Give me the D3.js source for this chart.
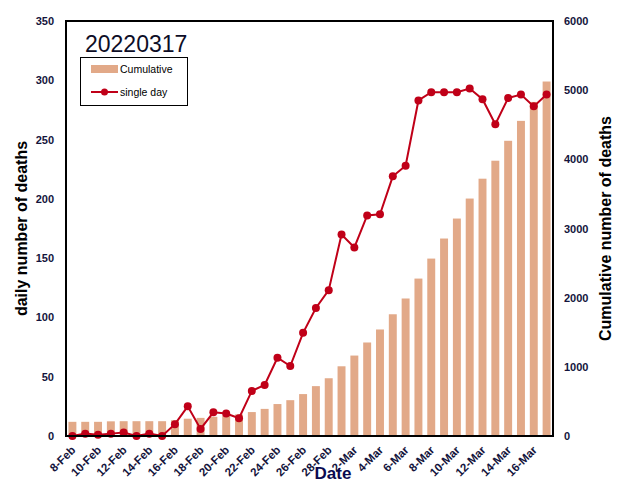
<!DOCTYPE html>
<html>
<head>
<meta charset="utf-8">
<script src="https://cdn.jsdelivr.net/npm/d3@7"></script>
<style>
  html, body { margin: 0; padding: 0; background: #fff; }
  svg { display: block; }
</style>
</head>
<body>
<svg id="chart" width="623" height="494"></svg>
<script>
const dates = ["8-Feb","9-Feb","10-Feb","11-Feb","12-Feb","13-Feb","14-Feb","15-Feb","16-Feb","17-Feb",
  "18-Feb","19-Feb","20-Feb","21-Feb","22-Feb","23-Feb","24-Feb","25-Feb","26-Feb","27-Feb","28-Feb",
  "1-Mar","2-Mar","3-Mar","4-Mar","5-Mar","6-Mar","7-Mar","8-Mar","9-Mar","10-Mar","11-Mar","12-Mar",
  "13-Mar","14-Mar","15-Mar","16-Mar","17-Mar"];
const cumulative = [205,205,205,212,214,214,214,214,228,250,
  262,278,296,312,346,392,462,518,606,721,835,
  1008,1163,1352,1540,1760,1988,2276,2565,2855,3144,3433,3720,
  3980,4268,4556,4830,5125];
const singleDay = [0,2,1,2,3,0,2,0,10,25,
  6,20,19,15,38,43,66,59,87,108,123,
  170,159,186,187,219,228,283,290,290,290,293,284,
  263,285,288,278,288];
const leftTicks = [0,50,100,150,200,250,300,350];
const rightTicks = [0,1000,2000,3000,4000,5000,6000];
const xTickLabels = dates.filter((d,i) => i % 2 === 0 && i < 37);

const svg = d3.select("#chart");
const L = 66, R = 553, T = 21, B = 436;
const font = "'Liberation Sans', Arial, sans-serif";
const navy = "#14143c";

const x = d3.scaleBand().domain(dates).range([L, R]).paddingInner(0.38).paddingOuter(0.19);
const yL = d3.scaleLinear().domain([0, 350]).range([B, T]);
const yR = d3.scaleLinear().domain([0, 6000]).range([B, T]);

// bars
svg.append("g").selectAll("rect").data(dates).join("rect")
  .attr("x", d => x(d))
  .attr("width", x.bandwidth())
  .attr("y", (d,i) => yR(cumulative[i]))
  .attr("height", (d,i) => B - yR(cumulative[i]))
  .attr("fill", "#E2A988");

// line
const cx = d => x(d) + x.bandwidth() / 2;
const line = d3.line().x((d,i) => cx(dates[i])).y(d => yL(d));
svg.append("path").datum(singleDay)
  .attr("d", line).attr("fill", "none")
  .attr("stroke", "#C00018").attr("stroke-width", 2);
svg.append("g").selectAll("circle").data(singleDay).join("circle")
  .attr("cx", (d,i) => cx(dates[i])).attr("cy", d => yL(d))
  .attr("r", 4).attr("fill", "#C00018");

// plot frame
svg.append("rect").attr("x", L).attr("y", T).attr("width", R - L).attr("height", B - T)
  .attr("fill", "none").attr("stroke", "#000").attr("stroke-width", 2);

// left axis
const axL = svg.append("g").attr("transform", `translate(${L},0)`)
  .call(d3.axisLeft(yL).tickValues(leftTicks).tickSize(0).tickPadding(12));
axL.select(".domain").remove();
axL.selectAll("text").attr("font-family", font).attr("font-size", 11).attr("font-weight", "bold").attr("fill", navy);

// right axis
const axR = svg.append("g").attr("transform", `translate(${R},0)`)
  .call(d3.axisRight(yR).tickValues(rightTicks).tickFormat(d3.format("d")).tickSize(0).tickPadding(11));
axR.select(".domain").remove();
axR.selectAll("text").attr("font-family", font).attr("font-size", 11).attr("font-weight", "bold").attr("fill", navy);

// x axis
const axX = svg.append("g").attr("transform", `translate(0,${B})`)
  .call(d3.axisBottom(x).tickValues(xTickLabels).tickSize(0));
axX.select(".domain").remove();
axX.selectAll("text")
  .attr("font-family", font).attr("font-size", 11.5).attr("font-weight", "bold").attr("fill", navy)
  .attr("text-anchor", "end")
  .attr("x", 0).attr("y", 0).attr("dy", "0.35em")
  .attr("transform", "translate(1,12) rotate(-45)");

// axis titles
svg.append("text").attr("transform", `translate(27,${(T+B)/2}) rotate(-90)`)
  .attr("text-anchor", "middle").attr("font-family", font).attr("font-weight", "bold")
  .attr("font-size", 16).attr("fill", "#000").text("daily number of deaths");
svg.append("text").attr("transform", `translate(611,${(T+B)/2}) rotate(-90)`)
  .attr("text-anchor", "middle").attr("font-family", font).attr("font-weight", "bold")
  .attr("font-size", 16).attr("fill", "#000").text("Cumulative number of deaths");
svg.append("text").attr("x", 333).attr("y", 479)
  .attr("text-anchor", "middle").attr("font-family", font).attr("font-weight", "bold")
  .attr("font-size", 17).attr("fill", "#0a0a50").text("Date");

// title
svg.append("text").attr("x", 85).attr("y", 52)
  .attr("font-family", font).attr("font-size", 23).attr("fill", "#0d0d26").text("20220317");

// legend
const lg = svg.append("g");
lg.append("rect").attr("x", 80.5).attr("y", 57.5).attr("width", 107).attr("height", 48)
  .attr("fill", "#fff").attr("stroke", "#000").attr("stroke-width", 1);
lg.append("rect").attr("x", 91).attr("y", 65).attr("width", 27).attr("height", 8).attr("fill", "#E2A988");
lg.append("text").attr("x", 120).attr("y", 73).attr("font-family", font).attr("font-size", 10.5)
  .attr("fill", "#000").text("Cumulative");
lg.append("line").attr("x1", 91).attr("x2", 118).attr("y1", 92).attr("y2", 92)
  .attr("stroke", "#C00018").attr("stroke-width", 2);
lg.append("circle").attr("cx", 104.5).attr("cy", 92).attr("r", 3.5).attr("fill", "#C00018");
lg.append("text").attr("x", 120).attr("y", 96).attr("font-family", font).attr("font-size", 10.5)
  .attr("fill", "#000").text("single day");
</script>
</body>
</html>
